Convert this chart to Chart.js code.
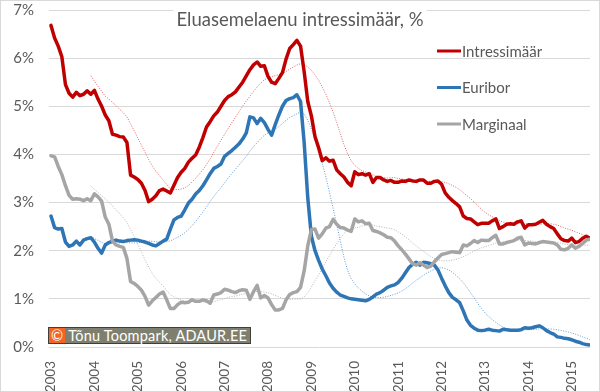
<!DOCTYPE html>
<html>
<head>
<meta charset="utf-8">
<script src="https://cdn.jsdelivr.net/npm/chart.js@4/dist/chart.umd.min.js"></script>
<style>
  html, body { margin: 0; padding: 0; background: #fff; }
  #wrap { position: relative; width: 600px; height: 392px; }
  #copy {
    position: absolute; left: 48px; top: 327px; height: 15px;
    border: 1px solid #3f3f3f; background: #7f7f6f; color: #fff;
    font: 14.5px Lato, sans-serif; line-height: 15px; white-space: nowrap;
    padding-right: 3px; letter-spacing: 0.2px;
  }
  #copy span { display: inline-block; background: #f26522; padding: 0 2px; margin-right: 3px; }
</style>
</head>
<body>
<div id="wrap">
  <canvas id="chart" width="600" height="392"></canvas>
  <div id="copy"><span>©</span>Tõnu Toompark, ADAUR.EE</div>
</div>
<script>
//--Andmed----------------------------
var months = [];
for (var y = 2003; y <= 2015; y++) {
    for (var m = 1; m <= 12; m++) {
        if (y == 2015 && m > 6) break;
        months.push(y + '-' + (m < 10 ? '0' + m : m));
    }
}

var yearLabels = ['2003', '2004', '2005', '2006', '2007', '2008', '2009', '2010', '2011', '2012', '2013', '2014', '2015'];

var intressimaar = [
    6.68, 6.42, 6.25, 6.03, 5.45, 5.27, 5.19, 5.29, 5.22, 5.25,
    5.32, 5.25, 5.33, 5.15, 5.00, 4.82, 4.70, 4.42, 4.40, 4.37,
    4.36, 4.25, 3.57, 3.53, 3.48, 3.40, 3.25, 3.02, 3.07, 3.14,
    3.25, 3.28, 3.24, 3.20, 3.36, 3.52, 3.63, 3.71, 3.84, 3.92,
    3.99, 4.15, 4.35, 4.57, 4.68, 4.80, 4.88, 5.00, 5.12, 5.20,
    5.24, 5.30, 5.40, 5.50, 5.63, 5.76, 5.86, 5.92, 5.83, 5.84,
    5.62, 5.50, 5.47, 5.58, 5.70, 5.98, 6.20, 6.28, 6.37, 6.25,
    5.72, 5.10, 4.80, 4.37, 4.14, 3.87, 3.93, 3.86, 3.88, 3.68,
    3.60, 3.53, 3.42, 3.35, 3.64, 3.58, 3.60, 3.57, 3.60, 3.42,
    3.52, 3.52, 3.47, 3.44, 3.46, 3.42, 3.42, 3.45, 3.44, 3.47,
    3.45, 3.44, 3.47, 3.47, 3.40, 3.40, 3.44, 3.45, 3.38, 3.20,
    3.11, 3.04, 2.98, 2.91, 2.72, 2.67, 2.66, 2.60, 2.54, 2.57,
    2.57, 2.57, 2.62, 2.66, 2.46, 2.50, 2.55, 2.56, 2.55, 2.60,
    2.62, 2.47, 2.54, 2.54, 2.55, 2.59, 2.63, 2.55, 2.50, 2.46,
    2.35, 2.25, 2.21, 2.20, 2.26, 2.17, 2.19, 2.26, 2.30, 2.26
];

var euribor = [
    2.72, 2.48, 2.45, 2.46, 2.18, 2.09, 2.12, 2.20, 2.12, 2.22,
    2.25, 2.27, 2.18, 2.05, 1.95, 2.12, 2.17, 2.20, 2.22, 2.20,
    2.19, 2.21, 2.22, 2.23, 2.22, 2.20, 2.18, 2.15, 2.12, 2.10,
    2.15, 2.20, 2.24, 2.45, 2.64, 2.69, 2.72, 2.85, 2.99, 3.07,
    3.18, 3.25, 3.35, 3.47, 3.60, 3.71, 3.75, 3.80, 3.96, 4.02,
    4.08, 4.15, 4.22, 4.32, 4.45, 4.78, 4.76, 4.64, 4.75, 4.66,
    4.52, 4.40, 4.62, 4.82, 5.00, 5.12, 5.16, 5.18, 5.24, 5.10,
    4.25, 3.10, 2.30, 2.00, 1.80, 1.62, 1.48, 1.33, 1.22, 1.14,
    1.08, 1.05, 1.02, 1.00, 0.99, 0.98, 0.97, 0.96, 0.99, 1.04,
    1.10, 1.13, 1.18, 1.24, 1.27, 1.29, 1.34, 1.43, 1.54, 1.65,
    1.72, 1.76, 1.70, 1.76, 1.75, 1.73, 1.70, 1.60, 1.43, 1.27,
    1.13, 1.03, 0.98, 0.92, 0.75, 0.56, 0.45, 0.39, 0.35, 0.34,
    0.35, 0.37, 0.35, 0.34, 0.33, 0.37, 0.36, 0.35, 0.35, 0.35,
    0.36, 0.40, 0.39, 0.40, 0.42, 0.44, 0.40, 0.34, 0.30, 0.27,
    0.21, 0.20, 0.18, 0.17, 0.15, 0.12, 0.10, 0.07, 0.05, 0.04
];

var marginaal = [
    3.97, 3.95, 3.75, 3.58, 3.35, 3.15, 3.07, 3.08, 3.07, 3.04,
    3.08, 3.04, 3.18, 3.12, 3.03, 2.70, 2.55, 2.20, 2.12, 2.09,
    2.07, 1.84, 1.36, 1.32, 1.26, 1.18, 1.05, 0.87, 0.96, 1.03,
    1.10, 1.14, 0.98, 0.80, 0.80, 0.88, 0.93, 0.92, 0.93, 0.98,
    0.95, 0.95, 0.98, 0.96, 0.91, 1.08, 1.10, 1.13, 1.20, 1.18,
    1.15, 1.13, 1.17, 1.19, 1.18, 0.99, 1.15, 1.28, 1.02, 1.07,
    1.02, 0.88, 0.77, 0.77, 0.80, 0.98, 1.09, 1.13, 1.15, 1.24,
    1.58, 2.10, 2.44, 2.45, 2.26, 2.35, 2.47, 2.50, 2.65, 2.55,
    2.48, 2.47, 2.43, 2.40, 2.66, 2.60, 2.62, 2.56, 2.57, 2.42,
    2.40, 2.37, 2.33, 2.28, 2.27, 2.20, 2.10, 2.02, 1.93, 1.83,
    1.73, 1.70, 1.75, 1.70, 1.65, 1.68, 1.77, 1.85, 1.92, 1.94,
    1.96, 1.98, 1.97, 1.96, 2.12, 2.10, 2.15, 2.21, 2.17, 2.22,
    2.21, 2.21, 2.27, 2.32, 2.14, 2.14, 2.17, 2.19, 2.21, 2.26,
    2.28, 2.12, 2.16, 2.15, 2.14, 2.17, 2.19, 2.18, 2.17, 2.16,
    2.12, 2.03, 2.02, 2.05, 2.12, 2.05, 2.09, 2.15, 2.22, 2.24
];

//--Abifunktsioonid----------------------------
function toYear(s) {
    var p = s.split('-');
    return +p[0] + (+p[1] - 1) / 12;
}

function points(arr) {
    return arr.map(function (v, i) {
        return v === null ? null : { x: toYear(months[i]), y: v };
    }).filter(function (p) { return p !== null; });
}

// 12 kuu libisev keskmine (trendijoon)
function movingAvg(arr, n) {
    var out = [];
    for (var i = 0; i < arr.length; i++) {
        if (i < n - 1) { out.push(null); continue; }
        var s = 0;
        for (var k = i - n + 1; k <= i; k++) s += arr[k];
        out.push(s / n);
    }
    return out;
}

var textColor = '#595959';

function series(label, arr, color, order) {
    return {
        label: label, data: points(arr), borderColor: color, backgroundColor: color,
        borderWidth: 3.5, pointRadius: 0, tension: 0, order: order,
        borderJoinStyle: 'round', borderCapStyle: 'round'
    };
}

function trend(arr, color) {
    return {
        label: '', data: points(movingAvg(arr, 12)), borderColor: color,
        borderWidth: 1, borderDash: [1, 1.5], pointRadius: 0, tension: 0, order: 5
    };
}

//--Pealkiri, legend ja raam----------------------------
var overlay = {
    id: 'overlay',
    afterDraw: function (chart) {
        var ctx = chart.ctx;
        ctx.save();
        // pealkiri valgel taustal
        ctx.font = '18.5px Lato';
        var t = 'Eluasemelaenu intressimäär, %';
        var w = ctx.measureText(t).width;
        ctx.fillStyle = '#fff';
        ctx.fillRect(300 - w / 2 - 3, 4, w + 6, 28);
        ctx.fillStyle = textColor;
        ctx.textAlign = 'center';
        ctx.textBaseline = 'middle';
        ctx.fillText(t, 300, 20);
        // legend
        var ys = [51, 87.5, 124];
        ctx.font = '15px Lato';
        ctx.textAlign = 'left';
        for (var i = 0; i < 3; i++) {
            var ds = chart.data.datasets[i];
            ctx.strokeStyle = ds.borderColor;
            ctx.lineWidth = 3;
            ctx.beginPath();
            ctx.moveTo(437, ys[i]);
            ctx.lineTo(461, ys[i]);
            ctx.stroke();
            ctx.fillStyle = textColor;
            ctx.fillText(ds.label, 462, ys[i] + 1);
        }
        // raam
        ctx.strokeStyle = '#d9d9d9';
        ctx.lineWidth = 1;
        ctx.strokeRect(0.5, 0.5, 599, 391);
        ctx.restore();
    }
};

//--Graafik----------------------------
var ctx = document.getElementById('chart').getContext('2d');
var myChart = new Chart(ctx, {
    type: 'line',
    data: {
        datasets: [
            series('Intressimäär', intressimaar, '#c00000', 3),
            series('Euribor', euribor, '#2e75b6', 2),
            series('Marginaal', marginaal, '#a5a5a5', 1),
            trend(intressimaar, '#e06060'),
            trend(euribor, '#5b9bd5'),
            trend(marginaal, '#b5b5b5')
        ]
    },
    options: {
        responsive: false,
        animation: false,
        devicePixelRatio: 1,
        layout: { padding: { top: 10, right: 10, left: 0, bottom: 0 } },
        plugins: { legend: { display: false }, tooltip: { enabled: false } },
        scales: {
            x: {
                type: 'linear', min: 2002.954, max: 2015.42,
                grid: { display: false }, border: { display: false },
                afterBuildTicks: function (s) {
                    s.ticks = yearLabels.map(function (l) { return { value: +l }; });
                },
                afterFit: function (s) {
                    s.height = 45;
                    s.paddingLeft = 0; s.paddingRight = 0;
                },
                ticks: {
                    autoSkip: false, minRotation: 90, maxRotation: 90, padding: 6,
                    color: textColor, font: { family: 'Lato', size: 13.5 },
                    callback: function (v) { return String(v); }
                }
            },
            y: {
                min: 0, max: 7,
                grid: { color: '#d9d9d9', drawTicks: false }, border: { display: false },
                afterFit: function (s) {
                    s.width = 49;
                    s.paddingTop = 0; s.paddingBottom = 0;
                },
                ticks: {
                    stepSize: 1, padding: 15, color: textColor, font: { family: 'Lato', size: 15 },
                    callback: function (v) { return v + '%'; }
                }
            }
        }
    },
    plugins: [overlay]
});
</script>
</body>
</html>
